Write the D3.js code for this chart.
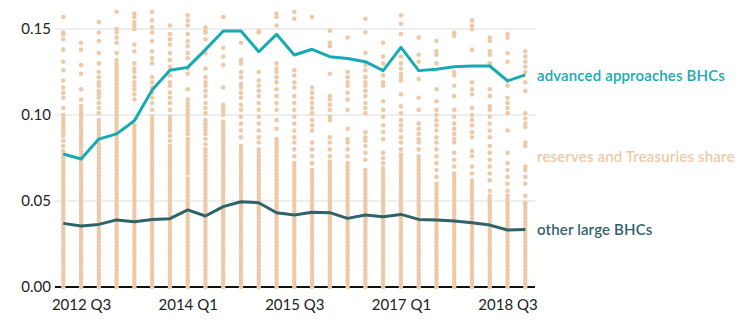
<!DOCTYPE html>
<html>
<head>
<meta charset="utf-8">
<script src="https://cdn.jsdelivr.net/npm/d3@7/dist/d3.min.js"></script>
<style>
  html, body { margin: 0; padding: 0; background: #ffffff; }
  svg { display: block; }
  text { font-family: Lato, "Open Sans", sans-serif; }
</style>
</head>
<body>
<svg id="chart" width="741" height="325"></svg>
<script>
// ---------- DATA ----------
const quarters = ["2012 Q2","2012 Q3","2012 Q4","2013 Q1","2013 Q2","2013 Q3","2013 Q4",
  "2014 Q1","2014 Q2","2014 Q3","2014 Q4","2015 Q1","2015 Q2","2015 Q3","2015 Q4",
  "2016 Q1","2016 Q2","2016 Q3","2016 Q4","2017 Q1","2017 Q2","2017 Q3","2017 Q4",
  "2018 Q1","2018 Q2","2018 Q3","2018 Q4"];
const tickLabels = ["2012 Q3","2014 Q1","2015 Q3","2017 Q1","2018 Q3"];
const yTicks = [0, 0.05, 0.10, 0.15];

const advancedApproaches = [0.0773,0.0744,0.0860,0.0890,0.0967,0.1145,0.1260,0.1277,0.1380,0.1488,0.1488,
  0.1368,0.1469,0.1349,0.1382,0.1339,0.1329,0.1310,0.1258,0.1393,0.1258,0.1266,0.1280,0.1285,0.1285,0.1198,0.1233];
const otherLarge = [0.0370,0.0355,0.0364,0.0390,0.0380,0.0393,0.0397,0.0448,0.0413,0.0467,0.0496,
  0.0490,0.0432,0.0419,0.0434,0.0432,0.0399,0.0419,0.0409,0.0422,0.0393,0.0390,0.0384,0.0374,0.0360,0.0331,0.0335];

// individual bank shares (thousandths) – lower solid part shared by every quarter
const sharesLow = [0,2,4,6,8,10,12,14,16,18,20,22,24,26,28,30,32,34,36,38,40,42,44,46];
// upper part of each quarter's column (thousandths)
const sharesHigh = [
  [157,148,147,144,138,131,126,120,116,113,110,104,100,98,96,94,92,90,88,85,82,79,77,75,73,71,69,67,65,63,61,59,57,55,53,51,49,48],
  [142,138,129,124,115,109,105,103,101,99,97,95,93,91,89,87,85,83,81,79,77,75,73,71,69,67,65,63,61,59,57,55,53,51,49,48],
  [154,148,143,136,130,125,122,119,117,114,112,110,107,104,101,97,95,93,91,89,87,85,83,81,79,77,75,73,71,69,67,65,63,61,59,57,55,53,51,49,48],
  [160,150,148,145,142,136,132,130,128,126,124,122,120,118,116,114,112,110,108,106,104,102,100,98,96,94,92,90,88,86,84,82,80,78,76,74,72,70,68,66,64,62,60,58,56,54,52,50,48],
  [159,157,154,152,150,141,137,130,127,125,122,119,117,115,112,109,94,92,90,88,86,84,82,80,78,76,74,72,70,68,66,64,62,60,58,56,54,52,50,48],
  [160,155,151,148,143,137,133,130,122,119,116,113,110,107,103,99,97,95,93,91,89,87,85,83,81,79,77,75,73,71,69,67,65,63,61,59,57,55,53,51,49,48],
  [152,147,144,141,136,132,128,123,119,117,113,110,107,103,99,97,95,93,91,88,85,82,80,78,76,74,72,70,68,66,64,62,60,58,56,54,52,50,48],
  [158,155,152,147,143,140,136,133,127,124,115,109,107,105,103,101,99,97,95,93,91,89,86,84,82,80,78,76,74,72,70,68,66,63,61,59,57,55,53,51,49,48],
  [151,149,148,144,136,127,122,119,117,114,111,107,104,101,97,95,93,91,89,86,83,80,78,76,74,72,70,68,66,64,62,60,58,56,54,52,50,48],
  [157,139,134,129,116,106,104,102,100,96,94,92,90,88,86,84,82,80,78,76,74,72,70,68,66,64,62,60,58,56,54,52,50,48],
  [142,132,130,125,122,118,116,113,110,106,103,99,95,91,87,82,80,78,76,74,72,70,68,66,64,62,60,58,56,54,52,50,48],
  [149,148,125,120,117,114,111,107,103,99,95,91,87,84,80,78,76,74,72,70,68,66,64,62,60,58,56,54,52,50,48],
  [159,157,152,130,127,125,122,119,115,111,107,103,97,92,86,84,82,80,78,76,74,72,70,68,66,64,62,60,58,56,54,52,50,48],
  [160,156,126,123,119,116,111,107,103,99,95,91,87,84,80,76,72,70,68,66,64,62,60,58,56,54,52,50,48],
  [157,116,113,110,107,104,101,97,94,91,84,80,76,72,68,66,64,62,60,58,56,54,52,50,48],
  [149,142,140,124,111,109,106,103,99,97,87,84,80,76,73,71,69,67,65,63,61,59,57,55,53,51,49,48],
  [145,125,122,119,117,113,109,103,92,86,84,80,76,72,70,68,66,64,62,60,58,56,54,52,50,48],
  [156,148,136,129,126,122,119,117,114,111,107,104,101,90,87,85,82,78,74,68,66,64,62,60,58,56,54,52,50,48],
  [142,134,130,123,119,117,108,103,99,94,90,86,78,75,72,69,67,65,63,61,59,57,55,53,51,49,48],
  [158,153,147,134,130,127,124,122,120,112,105,101,97,94,91,87,84,80,77,75,73,71,69,67,65,63,61,59,57,55,53,51,49,48],
  [145,135,131,121,110,103,95,92,89,86,84,80,76,74,72,70,68,66,64,62,60,58,56,54,52,50,48],
  [143,137,135,130,115,108,103,100,97,94,91,87,84,80,76,72,68,64,60,58,56,54,52,50,48],
  [148,146,125,123,117,111,103,99,95,92,89,86,84,78,74,70,66,64,62,60,58,56,54,52,50,48],
  [155,152,150,138,119,115,112,104,100,97,94,90,87,79,76,70,66,62,60,58,56,54,52,50,48],
  [145,143,137,135,130,115,111,105,103,99,95,91,87,82,78,74,70,66,62,56,53,51,49,48],
  [147,145,136,131,120,117,110,107,104,101,91,78,72,68,64,60,56,53,51,49,48],
  [137,134,131,128,125,119,114,101,98,95,93,84,82,70,68,64,60,53,49,48]
];

// ---------- CHART ----------
const svg = d3.select("#chart");
const x = d3.scalePoint().domain(quarters).range([63.3, 525.3]);
const y = d3.scaleLinear().domain([0, 0.15]).range([287, 29]);
const plotLeft = 55, plotRight = 535;

// gridlines
svg.append("g").selectAll("line").data(yTicks.filter(d => d > 0)).join("line")
  .attr("x1", plotLeft).attr("x2", plotRight)
  .attr("y1", d => y(d)).attr("y2", d => y(d))
  .attr("stroke", "#dddddd").attr("stroke-width", 1);

// baseline
svg.append("line").attr("x1", plotLeft).attr("x2", plotRight)
  .attr("y1", y(0)).attr("y2", y(0)).attr("stroke", "#111").attr("stroke-width", 2);

// y axis labels
const yAxis = d3.axisLeft(y).tickValues(yTicks).tickFormat(d3.format(".2f")).tickSize(0).tickPadding(0);
const gy = svg.append("g").attr("transform", "translate(51,0)").call(yAxis);
gy.select(".domain").remove();
gy.selectAll("text").attr("font-size", 15).attr("fill", "#222").attr("font-family", "Lato, sans-serif");

// x axis labels
const xAxis = d3.axisBottom(x).tickValues(tickLabels).tickSize(0).tickPadding(0);
const gx = svg.append("g").attr("transform", "translate(0,299)").call(xAxis);
gx.select(".domain").remove();
gx.selectAll("text").attr("font-size", 15).attr("fill", "#222").attr("font-family", "Lato, sans-serif");

// dots
const dots = [];
quarters.forEach((q, i) => {
  sharesLow.forEach(v => dots.push({q, v: v / 1000}));
  sharesHigh[i].forEach(v => dots.push({q, v: v / 1000}));
});
svg.append("g").selectAll("circle").data(dots).join("circle")
  .attr("cx", d => x(d.q)).attr("cy", d => y(d.v)).attr("r", 2.3)
  .attr("fill", "#ECCAA8");

// lines
const line = d3.line().x((d, i) => x(quarters[i])).y(d => y(d));
svg.append("path").datum(otherLarge).attr("d", line)
  .attr("fill", "none").attr("stroke", "#2E6468").attr("stroke-width", 3).attr("stroke-linejoin", "round");
svg.append("path").datum(advancedApproaches).attr("d", line)
  .attr("fill", "none").attr("stroke", "#17AAB2").attr("stroke-width", 3).attr("stroke-linejoin", "round");

// labels
const labels = [
  {text: "advanced approaches BHCs", y: 81, color: "#17AAB2"},
  {text: "reserves and Treasuries share", y: 161.5, color: "#EDC9A6"},
  {text: "other large BHCs", y: 235, color: "#33636A"}
];
svg.append("g").selectAll("text").data(labels).join("text")
  .attr("x", 537).attr("y", d => d.y).attr("fill", d => d.color)
  .attr("font-size", 15).attr("letter-spacing", 0.15).attr("font-weight", 600).text(d => d.text);
</script>
</body>
</html>
